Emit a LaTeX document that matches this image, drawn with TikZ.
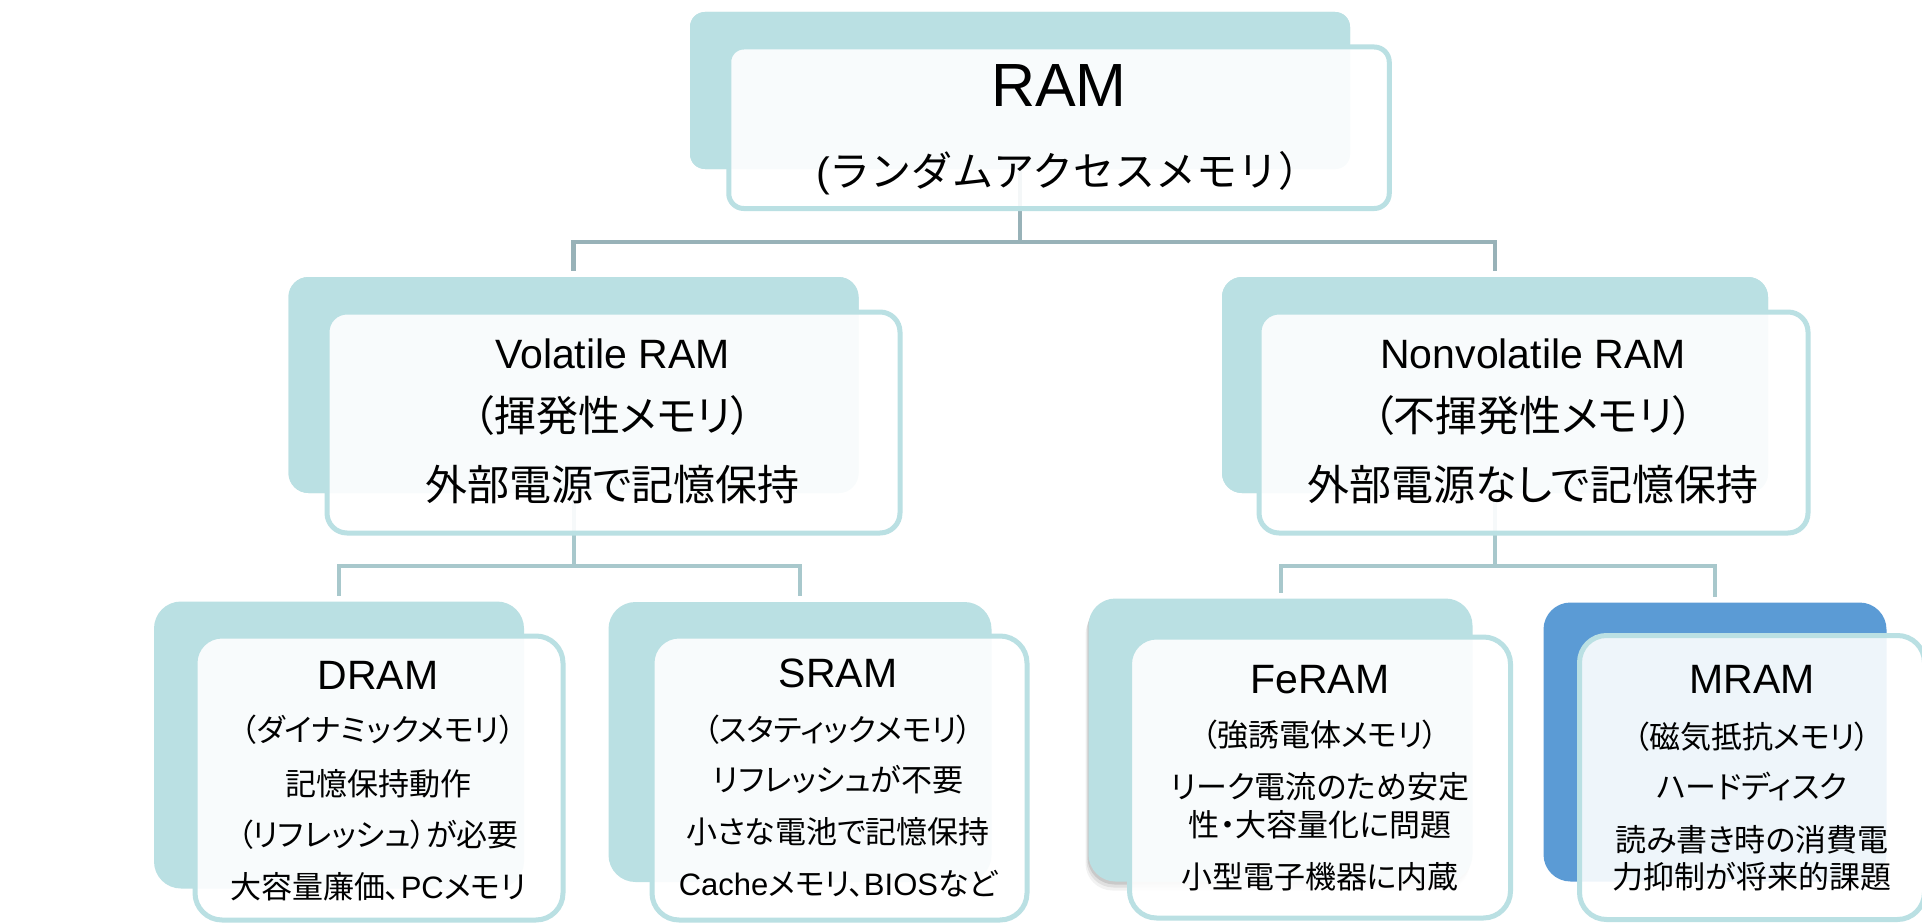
\documentclass[tikz,border=0pt]{standalone}
\usepackage{fontspec}
\setmainfont{Liberation Sans}
\newfontfamily\jp[RawFeature=+palt]{Noto Sans CJK JP}
\newfontfamily\jpw{Noto Sans CJK JP}
\usetikzlibrary{shadows}
\definecolor{tealA}{HTML}{BAE0E3}
\definecolor{blueA}{HTML}{5B9BD5}
\definecolor{connA}{HTML}{98B2B8}
\definecolor{connB}{HTML}{A8C8CC}
\tikzset{
  backbox/.style={fill=tealA, draw=none, inner sep=0pt, outer sep=0pt},
  frontbox/.style={draw=tealA, line width=5pt, fill=white, fill opacity=0.9, inner sep=0pt, outer sep=0pt},
  connTop/.style={draw=connA, line width=4.5pt},
  connLow/.style={draw=connB, line width=4pt},
  txt/.style={anchor=base, inner sep=0pt, text=black},
  ttlL/.style={txt, font=\fontsize{41}{48}\selectfont},
  subL/.style={txt, font=\fontsize{42}{48}\selectfont\jp},
  ttlS/.style={txt, font=\fontsize{41}{48}\selectfont},
  subS/.style={txt, font=\fontsize{31}{37}\selectfont\jp},
}
\begin{document}
\begin{tikzpicture}[x=1pt,y=-1pt]
\clip (0,0) rectangle (1922,923);
\fill[white] (0,0) rectangle (1922,923);

% back boxes
\node[backbox, rounded corners=15pt, minimum width=660pt, minimum height=157pt] (ramB) at (1020,90.5) {};
\node[backbox, rounded corners=20pt, minimum width=570pt, minimum height=216pt] (volB) at (573.5,385) {};
\node[backbox, rounded corners=20pt, minimum width=546pt, minimum height=216pt] (nonB) at (1495,385) {};
\node[backbox, rounded corners=27pt, minimum width=370pt, minimum height=287pt] (dramB) at (339,745) {};
\node[backbox, rounded corners=27pt, minimum width=383pt, minimum height=280pt] (sramB) at (800,742) {};
\node[backbox, rounded corners=27pt, minimum width=384pt, minimum height=283pt,
  drop shadow={shadow xshift=-1pt, shadow yshift=-3pt, fill=black, opacity=0.10},
  drop shadow={shadow xshift=-2pt, shadow yshift=-6pt, fill=black, opacity=0.07},
  drop shadow={shadow xshift=-3pt, shadow yshift=-9pt, fill=black, opacity=0.05}] (feB) at (1280.5,740) {};
\node[backbox, fill=blueA, rounded corners=27pt, minimum width=343pt, minimum height=279pt] (mrB) at (1715,742) {};

% connectors
\coordinate (barTop) at (0,242);
\coordinate (barLow) at (0,566);
\draw[connTop] (ramB.center) -- (ramB.center |- barTop) -| ([yshift=6pt]volB.north);
\draw[connTop] (ramB.center |- barTop) -| ([yshift=6pt]nonB.north);
\draw[connLow] (volB.center) -- (volB.center |- barLow) -| ([yshift=6pt]dramB.north);
\draw[connLow] (volB.center |- barLow) -| ([yshift=6pt]sramB.north);
\draw[connLow] (nonB.center) -- (nonB.center |- barLow) -| ([yshift=6pt]feB.north);
\draw[connLow] (nonB.center |- barLow) -| ([yshift=6pt]mrB.north);

% redraw back boxes over connector tops
\node[backbox, rounded corners=15pt, minimum width=660pt, minimum height=157pt] at (ramB) {};
\node[backbox, rounded corners=20pt, minimum width=570pt, minimum height=216pt] at (volB) {};
\node[backbox, rounded corners=20pt, minimum width=546pt, minimum height=216pt] at (nonB) {};

% front boxes
\node[frontbox, rounded corners=15pt, minimum width=660.5pt, minimum height=161.5pt] (ramF) at (1059,127.75) {};
\node[frontbox, rounded corners=20pt, minimum width=573pt, minimum height=221pt] (volF) at (613.5,422.5) {};
\node[frontbox, rounded corners=20pt, minimum width=549pt, minimum height=221pt] (nonF) at (1533.5,422.5) {};
\node[frontbox, rounded corners=27pt, minimum width=368pt, minimum height=284pt] (dramF) at (379,778) {};
\node[frontbox, rounded corners=27pt, minimum width=375pt, minimum height=284pt] (sramF) at (839.5,778) {};
\node[frontbox, rounded corners=27pt, minimum width=381pt, minimum height=281pt] (feF) at (1320,777.5) {};
\node[frontbox, rounded corners=27pt, minimum width=345pt, minimum height=284pt] (mrF) at (1752,777.5) {};

% texts: top
\node[txt, font=\fontsize{61}{70}\selectfont] (ramT1) at (1059,107) {RAM};
\node[txt, font=\fontsize{41}{48}\selectfont] (ramT2) at (1068,186) {({\jpw ランダムアクセスメモリ）}};

% level 2
\node[ttlL] (volT1) at (612.5,368) {Volatile RAM};
\node[subL] (volT2) at (612.5,431) {（揮発性メモリ）};
\node[subL] (volT3) at (612.5,500) {外部電源で記憶保持};
\node[ttlL] (nonT1) at (1533,368) {Nonvolatile RAM};
\node[subL] (nonT2) at (1533,431) {（不揮発性メモリ）};
\node[subL] (nonT3) at (1533,500) {外部電源なしで記憶保持};

% DRAM
\node[ttlS] (drT1) at (378,689) {DRAM};
\node[subS] (drT2) at (378,741) {（ダイナミックメモリ）};
\node[subS] (drT3) at (378,795) {記憶保持動作};
\node[subS] (drT4) at (378,846) {（リフレッシュ）が必要};
\node[subS] (drT5) at (378,898) {大容量廉価、{\rmfamily PC}メモリ};

% SRAM
\node[ttlS] (srT1) at (838,687) {SRAM};
\node[subS] (srT2) at (838,741) {（スタティックメモリ）};
\node[subS] (srT3) at (838,791) {リフレッシュが不要};
\node[subS] (srT4) at (838,843) {小さな電池で記憶保持};
\node[subS] (srT5) at (838,895) {{\rmfamily Cache}メモリ、{\rmfamily BIOS}など};

% FeRAM
\node[ttlS] (feT1) at (1320,693) {FeRAM};
\node[subS] (feT2) at (1320,746) {（強誘電体メモリ）};
\node[subS] (feT3) at (1320,798) {リーク電流のため安定};
\node[subS] (feT4) at (1320,836) {性・大容量化に問題};
\node[subS] (feT5) at (1320,888) {小型電子機器に内蔵};

% MRAM
\node[ttlS] (mrT1) at (1752,693) {MRAM};
\node[subS] (mrT2) at (1752,748) {（磁気抵抗メモリ）};
\node[subS] (mrT3) at (1752,798) {ハードディスク};
\node[subS] (mrT4) at (1752,851) {読み書き時の消費電};
\node[subS] (mrT5) at (1752,888) {力抑制が将来的課題};
\end{tikzpicture}
\end{document}
